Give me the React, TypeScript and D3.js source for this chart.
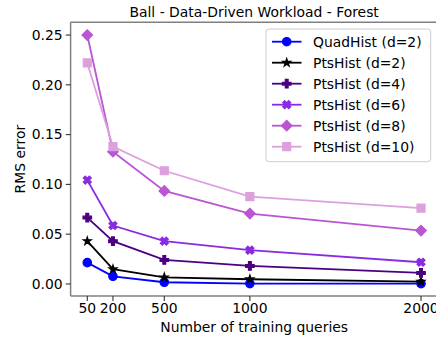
import React from "react";
import * as d3 from "d3";

const queries = [50, 200, 500, 1000, 2000];
const seriesNames = [
  "QuadHist (d=2)",
  "PtsHist (d=2)",
  "PtsHist (d=4)",
  "PtsHist (d=6)",
  "PtsHist (d=8)",
  "PtsHist (d=10)",
];
const quadHist2 = [0.0214, 0.0077, 0.0017, 0.0004, 0.0004];
const ptsHist2 = [0.043, 0.0148, 0.0067, 0.0047, 0.0023];
const ptsHist4 = [0.0667, 0.043, 0.0241, 0.0181, 0.0111];
const ptsHist6 = [0.1043, 0.0587, 0.043, 0.0339, 0.0218];
const ptsHist8 = [0.25, 0.1328, 0.0934, 0.0707, 0.0536];
const ptsHist10 = [0.222, 0.138, 0.1137, 0.0878, 0.0761];
const yTicks = [0, 0.05, 0.1, 0.15, 0.2, 0.25];

const W = 436;
const H = 339;
const margin = { left: 70.6, right: 437.7, top: 22.3, bottom: 296 };
const font = "DejaVu Sans, sans-serif";

const colors = ["#0000ff", "#000000", "#4b0082", "#8a2be2", "#ba55d3", "#dda0dd"];

// marker shapes roughly like matplotlib o * P X D s
const markers = [
  { type: d3.symbolCircle, size: 56, rot: 0 },
  { type: d3.symbolStar, size: 20, rot: 0 },
  { type: d3.symbolCross, size: 40, rot: 0 },
  { type: d3.symbolCross, size: 40, rot: 45 },
  { type: d3.symbolSquare, size: 56, rot: 45 },
  { type: d3.symbolSquare, size: 64, rot: 0 },
];

export default function App() {
  const allSeries = [quadHist2, ptsHist2, ptsHist4, ptsHist6, ptsHist8, ptsHist10];

  const x = d3.scaleLinear().domain([-47.5, 2097.5]).range([margin.left, margin.right]);
  const y = d3.scaleLinear().domain([-0.0121, 0.2628]).range([margin.bottom, margin.top]);

  const line = d3
    .line<number>()
    .x((d, i) => x(queries[i]))
    .y((d) => y(d));

  const fmt = d3.format(".2f");
  const midX = (margin.left + margin.right) / 2;

  return (
    <svg
      width={W}
      height={H}
      style={{ position: "absolute", left: 0, top: 0, background: "#fff" }}
      fontFamily={font}
    >
      {/* series */}
      {allSeries.map((vals, si) => {
        const m = markers[si];
        const sym = d3.symbol().type(m.type).size(m.size)();
        return (
          <g key={si}>
            <path d={line(vals) || ""} fill="none" stroke={colors[si]} strokeWidth={1.8} />
            {vals.map((v, i) => (
              <path
                key={i}
                d={sym || ""}
                transform={`translate(${x(queries[i])},${y(v)}) rotate(${m.rot})`}
                fill={colors[si]}
                stroke={colors[si]}
                strokeWidth={1.2}
              />
            ))}
          </g>
        );
      })}

      {/* spines */}
      <line x1={margin.left} x2={margin.left} y1={margin.top} y2={margin.bottom} stroke="#808080" strokeWidth={1.5} />
      <line x1={margin.left} x2={margin.right} y1={margin.bottom} y2={margin.bottom} stroke="#808080" strokeWidth={1.5} />
      <line x1={margin.left} x2={margin.right} y1={margin.top} y2={margin.top} stroke="#808080" strokeWidth={1.5} />
      <line x1={margin.right} x2={margin.right} y1={margin.top} y2={margin.bottom} stroke="#808080" strokeWidth={1.5} />

      {/* y axis */}
      {yTicks.map((t) => (
        <g key={t} transform={`translate(0,${y(t)})`}>
          <line x1={margin.left - 4.9} x2={margin.left} stroke="#333" strokeWidth={1.1} />
          <text x={margin.left - 8} dy="0.35em" textAnchor="end" fontSize={13.9} fill="#000">
            {fmt(t)}
          </text>
        </g>
      ))}

      {/* x axis */}
      {queries.map((q) => (
        <g key={q} transform={`translate(${x(q)},0)`}>
          <line y1={margin.bottom} y2={margin.bottom + 4.9} stroke="#333" strokeWidth={1.1} />
          <text y={313} textAnchor="middle" fontSize={13.9} fill="#000">
            {q}
          </text>
        </g>
      ))}

      <text x={midX} y={332} textAnchor="middle" fontSize={13.9}>
        Number of training queries
      </text>
      <text transform={`translate(25,${(margin.top + margin.bottom) / 2}) rotate(-90)`} textAnchor="middle" fontSize={13.9}>
        RMS error
      </text>
      <text x={midX} y={16.5} textAnchor="middle" fontSize={13.9}>
        Ball - Data-Driven Workload - Forest
      </text>

      {/* legend */}
      <g>
        <rect x={266} y={29} width={164.7} height={132.7} rx={3} fill="#fff" fillOpacity={0.8} stroke="#cccccc" strokeWidth={1} />
        {seriesNames.map((name, si) => {
          const cy = 41.7 + si * 21;
          const m = markers[si];
          const sym = d3.symbol().type(m.type).size(m.size)();
          return (
            <g key={name}>
              <line x1={272} x2={301.5} y1={cy} y2={cy} stroke={colors[si]} strokeWidth={1.8} />
              <path
                d={sym || ""}
                transform={`translate(286.7,${cy}) rotate(${m.rot})`}
                fill={colors[si]}
                stroke={colors[si]}
                strokeWidth={1.2}
              />
              <text x={313} y={cy} dy="0.35em" fontSize={13.9}>
                {name}
              </text>
            </g>
          );
        })}
      </g>
    </svg>
  );
}
